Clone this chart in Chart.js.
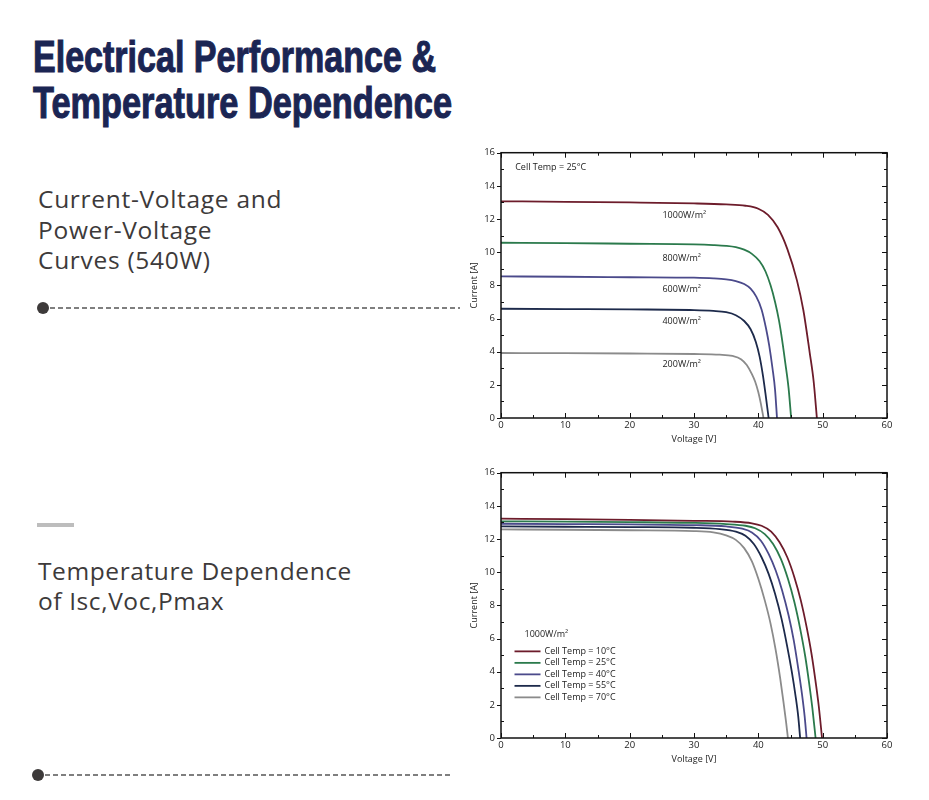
<!DOCTYPE html>
<html>
<head>
<meta charset="utf-8">
<script src="https://cdn.jsdelivr.net/npm/chart.js@4"></script>
<style>
  body { margin: 0; background: #fff; }
  #page { position: relative; width: 929px; height: 800px; overflow: hidden; }
  .title {
    position: absolute; left: 33px; white-space: nowrap;
    font-family: "Liberation Sans", Arial, sans-serif;
    font-weight: bold; font-size: 45px; line-height: 46px; color: #1b2553;
    -webkit-text-stroke: 1.1px #1b2553;
    transform-origin: left top;
  }
  .side {
    position: absolute; left: 38px; white-space: nowrap;
    font-family: "Open Sans", "Noto Sans", sans-serif; font-size: 24.5px;
    color: #3d3a3a; letter-spacing: 0.7px;
  }
  .chart { position: absolute; left: 465px; width: 430px; height: 304px; }
  svg.deco { position: absolute; left: 0; top: 0; }
</style>
</head>
<body>
<div id="page">
  <div class="title" id="t1" style="top:34px" data-w="403">Electrical Performance &amp;</div>
  <div class="title" id="t2" style="top:80px" data-w="419">Temperature Dependence</div>
  <div class="side" style="top:184px;line-height:30.5px">Current-Voltage and<br>Power-Voltage<br>Curves (540W)</div>
  <div class="side" style="top:556px;line-height:30px;letter-spacing:0.6px">Temperature Dependence<br>of Isc,Voc,Pmax</div>
  <svg class="deco" width="929" height="800">
    <circle cx="43" cy="308" r="6" fill="#3d3a3a"/>
    <line x1="50" y1="308" x2="460" y2="308" stroke="#555" stroke-width="1.5" stroke-dasharray="5 3"/>
    <rect x="37" y="523" width="37" height="4" fill="#bdbdbd"/>
    <circle cx="38" cy="775" r="6" fill="#3d3a3a"/>
    <line x1="45" y1="775" x2="450" y2="775" stroke="#555" stroke-width="1.5" stroke-dasharray="5 3"/>
  </svg>
  <div class="chart" style="top:141px"><canvas id="ivChart"></canvas></div>
  <div class="chart" style="top:461px"><canvas id="tempChart"></canvas></div>
</div>
<script>
// I-V curves at 25°C cell temperature, [voltage V, current A]
const iv1000 = [[0,13.07],[10,13.04],[20,13.0],[30,12.94],[35,12.88],[38,12.8],[40,12.62],[41.5,12.25],[43,11.5],[44.5,10.2],[46,8.3],[47,6.5],[48,3.9],[48.6,2.2],[49.1,0]];
const iv800 = [[0,10.57],[10,10.55],[20,10.51],[30,10.47],[33,10.43],[35,10.38],[36.5,10.3],[37.8,10.15],[39,9.9],[40.2,9.45],[41.1,8.85],[41.9,8.0],[42.6,7.0],[43.2,5.9],[43.7,4.7],[44.2,3.3],[44.7,1.8],[45.1,0]];
const iv600 = [[0,8.54],[10,8.52],[20,8.49],[30,8.46],[33,8.42],[35,8.36],[36.5,8.26],[37.8,8.08],[38.8,7.8],[39.7,7.3],[40.5,6.55],[41.2,5.4],[41.7,4.35],[42.2,3.0],[42.6,1.7],[42.9,0]];
const iv400 = [[0,6.59],[10,6.57],[20,6.55],[30,6.51],[33,6.46],[35,6.38],[36.5,6.2],[37.8,5.85],[38.8,5.35],[39.6,4.6],[40.2,3.7],[40.7,2.6],[41.1,1.5],[41.35,0.75],[41.6,0]];
const iv200 = [[0,3.92],[10,3.91],[20,3.89],[30,3.86],[34,3.82],[36,3.74],[37.3,3.55],[38.2,3.2],[39,2.65],[39.5,2.2],[40,1.55],[40.4,0.85],[40.8,0]];
const irrLabels = ["1000W/m²", "800W/m²", "600W/m²", "400W/m²", "200W/m²"];

// I-V curves at 1000W/m² for several cell temperatures
const t10 = [[0,13.23],[10,13.2],[20,13.16],[30,13.1],[36,13.05],[39,12.95],[40.5,12.8],[42,12.45],[43.3,11.8],[44.5,10.9],[45.6,9.7],[46.6,8.3],[47.5,6.7],[48.3,5.0],[48.9,3.4],[49.4,1.9],[49.9,0]];
const t25 = [[0,13.07],[10,13.05],[20,13.02],[30,12.97],[35,12.9],[38,12.8],[39.5,12.65],[41,12.3],[42.3,11.7],[43.5,10.8],[44.6,9.6],[45.6,8.2],[46.5,6.6],[47.3,4.9],[47.9,3.3],[48.4,1.8],[48.9,0]];
const t40 = [[0,12.92],[10,12.9],[20,12.88],[30,12.84],[35,12.76],[37.5,12.62],[39,12.4],[40.4,11.9],[41.6,11.1],[42.7,10.1],[43.7,8.9],[44.7,7.4],[45.5,5.9],[46.2,4.2],[46.8,2.6],[47.2,1.3],[47.5,0]];
const t55 = [[0,12.76],[10,12.74],[20,12.72],[30,12.68],[34,12.6],[36.5,12.45],[38,12.2],[39.3,11.7],[40.5,10.9],[41.6,9.9],[42.6,8.7],[43.6,7.2],[44.5,5.5],[45.2,4.0],[45.8,2.5],[46.2,1.3],[46.5,0]];
const t70 = [[0,12.58],[10,12.56],[20,12.53],[30,12.48],[33,12.4],[35,12.22],[36.5,11.95],[37.8,11.45],[39,10.65],[40,9.6],[41,8.3],[41.9,6.9],[42.7,5.3],[43.4,3.6],[43.9,2.2],[44.3,1.0],[44.6,0]];
const tempLabels = ["Cell Temp = 10°C", "Cell Temp = 25°C", "Cell Temp = 40°C", "Cell Temp = 55°C", "Cell Temp = 70°C"];

const colors = ["#6d1c2b", "#2b7a4c", "#4b4a8b", "#1d2a4b", "#8b8b8b"];
const chartFont = '"Open Sans", "Noto Sans", sans-serif';

// squeeze the heavy title lines to the width they have in the datasheet
document.querySelectorAll(".title").forEach((el) => {
  const w = el.getBoundingClientRect().width;
  el.style.transform = "scaleX(" + (+el.dataset.w / w) + ")";
});

function toXY(arr) {
  return arr.map(([v, i]) => ({ x: v, y: i }));
}

function makeDatasets(curves, labels) {
  return curves.map((c, k) => ({
    label: labels[k],
    data: toXY(c),
    borderColor: colors[k],
    borderWidth: 1.8,
    pointRadius: 0,
    cubicInterpolationMode: "monotone",
    fill: false,
  }));
}

// frame around the plot with inward ticks, like the datasheet graphs
const frameTicks = {
  id: "frameTicks",
  afterDatasetsDraw(chart) {
    const { ctx, chartArea: a, scales: { x, y } } = chart;
    ctx.save();
    ctx.strokeStyle = "#111";
    ctx.lineWidth = 1.5;
    ctx.strokeRect(a.left, a.top, a.right - a.left, a.bottom - a.top);
    ctx.lineWidth = 1;
    ctx.beginPath();
    for (let v = x.min; v <= x.max; v += 5) {
      const px = Math.round(x.getPixelForValue(v)) + 0.5;
      const len = v % 10 === 0 ? 5 : 3;
      ctx.moveTo(px, a.bottom); ctx.lineTo(px, a.bottom - len);
      ctx.moveTo(px, a.top); ctx.lineTo(px, a.top + len);
    }
    for (let v = y.min; v <= y.max; v += 1) {
      const py = Math.round(y.getPixelForValue(v)) + 0.5;
      if (v % 2 === 0) {
        ctx.moveTo(a.left - 4, py); ctx.lineTo(a.left, py);
        ctx.moveTo(a.right, py); ctx.lineTo(a.right - 5, py);
      } else {
        ctx.moveTo(a.left, py); ctx.lineTo(a.left + 3, py);
        ctx.moveTo(a.right, py); ctx.lineTo(a.right - 3, py);
      }
    }
    ctx.stroke();
    ctx.restore();
  },
};

// text notes placed at data coordinates, plus an optional in-plot legend
const notes = {
  id: "notes",
  afterDatasetsDraw(chart, args, opts) {
    const { ctx, scales: { x, y } } = chart;
    ctx.save();
    ctx.font = "9px " + chartFont;
    ctx.fillStyle = "#222";
    ctx.textBaseline = "middle";
    (opts.items || []).forEach((n) => {
      ctx.fillText(n.text, x.getPixelForValue(n.x), y.getPixelForValue(n.y));
    });
    if (opts.legend) {
      const lg = opts.legend;
      const x0 = x.getPixelForValue(lg.x);
      let y0 = y.getPixelForValue(lg.y);
      ctx.fillText(lg.title, x0 + 10, y0);
      y0 += 17;
      chart.data.datasets.forEach((ds) => {
        ctx.strokeStyle = ds.borderColor;
        ctx.lineWidth = 1.8;
        ctx.beginPath();
        ctx.moveTo(x0, y0);
        ctx.lineTo(x0 + 26, y0);
        ctx.stroke();
        ctx.fillText(ds.label, x0 + 30, y0);
        y0 += 11.5;
      });
    }
    ctx.restore();
  },
};

Chart.defaults.font.family = chartFont;
Chart.defaults.color = "#222";

function makeOptions(noteOpts) {
  return {
    responsive: false,
    maintainAspectRatio: false,
    animation: false,
    layout: { padding: { top: 7, right: 8, left: 0, bottom: 0 } },
    scales: {
      x: {
        type: "linear",
        min: 0,
        max: 60,
        afterFit: (s) => { s.height = 27; },
        ticks: { stepSize: 10, padding: 2, font: { size: 9.5 }, color: "#222" },
        grid: { display: false, drawTicks: false },
        border: { display: false },
        title: { display: true, text: "Voltage [V]", font: { size: 9 }, color: "#222", padding: 0 },
      },
      y: {
        min: 0,
        max: 16,
        afterFit: (s) => { s.width = 36; },
        ticks: { stepSize: 2, padding: 6, font: { size: 9.5 }, color: "#222" },
        grid: { display: false, drawTicks: false },
        border: { display: false },
        title: { display: true, text: "Current [A]", font: { size: 9 }, color: "#222", padding: 4 },
      },
    },
    plugins: {
      legend: { display: false },
      tooltip: { enabled: false },
      notes: noteOpts,
    },
  };
}

function sizeCanvas(id) {
  const c = document.getElementById(id);
  c.width = 430;
  c.height = 304;
  return c.getContext("2d");
}

new Chart(sizeCanvas("ivChart"), {
  type: "line",
  data: { datasets: makeDatasets([iv1000, iv800, iv600, iv400, iv200], irrLabels) },
  options: makeOptions({
    items: [
      { text: "Cell Temp = 25°C", x: 2.2, y: 15.1 },
      { text: irrLabels[0], x: 25.1, y: 12.2 },
      { text: irrLabels[1], x: 25.1, y: 9.6 },
      { text: irrLabels[2], x: 25.1, y: 7.75 },
      { text: irrLabels[3], x: 25.1, y: 5.82 },
      { text: irrLabels[4], x: 25.1, y: 3.24 },
    ],
  }),
  plugins: [frameTicks, notes],
});

new Chart(sizeCanvas("tempChart"), {
  type: "line",
  data: { datasets: makeDatasets([t10, t25, t40, t55, t70], tempLabels) },
  options: makeOptions({
    legend: { title: "1000W/m²", x: 2.1, y: 6.25 },
  }),
  plugins: [frameTicks, notes],
});
</script>
</body>
</html>
